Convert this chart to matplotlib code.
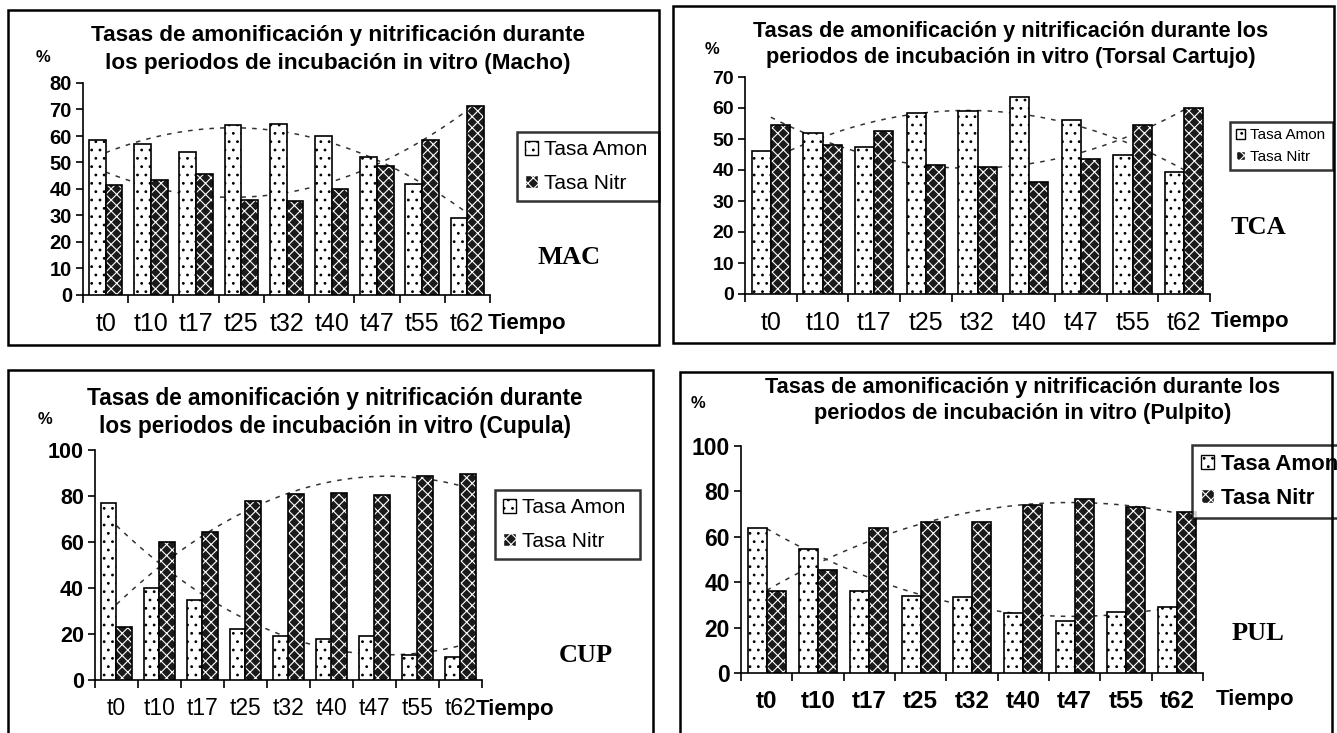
import numpy as np
import matplotlib
matplotlib.use("Agg")
import matplotlib.pyplot as plt
from matplotlib.patches import Rectangle, Patch

plt.rcParams["font.family"] = ["Liberation Sans", "DejaVu Sans"]
plt.rcParams["hatch.linewidth"] = 0.8

# data
categories = ["t0", "t10", "t17", "t25", "t32", "t40", "t47", "t55", "t62"]

mac_amon = [58.5, 57, 54, 64, 64.5, 60, 52, 42, 29]
mac_nitr = [41.5, 43.5, 45.5, 36, 35.5, 40, 48.5, 58.5, 71.5]

tca_amon = [46, 52, 47.5, 58.5, 59, 63.5, 56, 45, 39.5]
tca_nitr = [54.5, 48, 52.5, 41.5, 41, 36, 43.5, 54.5, 60]

cup_amon = [77, 40, 35, 22, 19, 18, 19, 11, 10]
cup_nitr = [23, 60, 64.5, 78, 81, 81.5, 80.5, 88.5, 89.5]

pul_amon = [64, 54.5, 36, 34, 33.5, 26.5, 23, 27, 29]
pul_nitr = [36, 45.5, 64, 66.5, 66.5, 74, 76.5, 73, 71]

series_names = ["Tasa Amon", "Tasa Nitr"]
line1 = "Tasas de amonificación y nitrificación durante"
titles = [
    (line1, "los periodos de incubación in vitro (Macho)"),
    (line1 + " los", "periodos de incubación in vitro (Torsal Cartujo)"),
    (line1, "los periodos de incubación in vitro (Cupula)"),
    (line1 + " los", "periodos de incubación in vitro (Pulpito)"),
]
tags = ["MAC", "TCA", "CUP", "PUL"]

W, H = 1337, 733


def rect(x0, y0, x1, y1):
    # pixel box (top-left origin) -> figure fraction
    return [x0 / W, 1 - y1 / H, (x1 - x0) / W, (y1 - y0) / H]


fig = plt.figure(figsize=(W / 100, H / 100), dpi=100)

panels = [
    dict(amon=mac_amon, nitr=mac_nitr, title=titles[0], tag=tags[0],
         box=(8, 10, 659, 345), ax=(83, 83, 490, 295), ymax=80, ystep=10,
         tfont=16.2, title_x=338, title_y=(35, 63), pct=(43, 57),
         leg=(517, 132, 142, 71), legfs=15, legbold=False, legsp=0.7,
         tagpos=(569, 258), tiempo=(527, 323), xfs=18, xbold=False, yfs=14.5),
    dict(amon=tca_amon, nitr=tca_nitr, title=titles[1], tag=tags[1],
         box=(673, 6, 1334, 343), ax=(745, 77, 1210, 294), ymax=70, ystep=10,
         tfont=15.7, title_x=1011, title_y=(32, 58), pct=(712, 49),
         leg=(1230, 122, 103, 47), legfs=11, legbold=False, legsp=0.5,
         tagpos=(1258, 228), tiempo=(1250, 322), xfs=18, xbold=False, yfs=14),
    dict(amon=cup_amon, nitr=cup_nitr, title=titles[2], tag=tags[2],
         box=(8, 370, 653, 745), ax=(95, 450, 482, 680), ymax=100, ystep=20,
         tfont=16.3, title_x=335, title_y=(398, 427), pct=(45, 420),
         leg=(495, 490, 145, 78), legfs=15, legbold=False, legsp=0.7,
         tagpos=(586, 655), tiempo=(515, 710), xfs=16.5, xbold=False, yfs=15.5),
    dict(amon=pul_amon, nitr=pul_nitr, title=titles[3], tag=tags[3],
         box=(680, 372, 1332, 745), ax=(741, 446, 1203, 673), ymax=100, ystep=20,
         tfont=15.7, title_x=1023, title_y=(387, 413), pct=(698, 403),
         leg=(1192, 445, 150, 72), legfs=16, legbold=True, legsp=0.6,
         tagpos=(1258, 633), tiempo=(1255, 700), xfs=17.5, xbold=True, yfs=16.5),
]

x = np.arange(len(categories))
w = 0.37
xs = np.linspace(0, len(categories) - 1, 200)

for p in panels:
    bx = p["box"]
    fig.patches.append(Rectangle((bx[0] / W, 1 - bx[3] / H), (bx[2] - bx[0]) / W,
                                 (bx[3] - bx[1]) / H, transform=fig.transFigure,
                                 fill=False, edgecolor="black", lw=1.8))

    ax = fig.add_axes(rect(*p["ax"]))
    ax.bar(x - w / 2, p["amon"], w, color="white", edgecolor="black",
           hatch="..", lw=1.2, zorder=3)
    ax.bar(x + w / 2, p["nitr"], w, color="#1a1a1a", edgecolor="white",
           hatch="xxx", lw=0, zorder=3)
    ax.bar(x + w / 2, p["nitr"], w, fill=False, edgecolor="black", lw=1.2, zorder=4)

    # 2nd order polynomial trend lines (dashed), like the spreadsheet default
    for vals in (p["amon"], p["nitr"]):
        coef = np.polyfit(x, vals, 2)
        ax.plot(xs, np.polyval(coef, xs), color="#333333", lw=1.1,
                ls=(0, (3, 4)), zorder=2)

    ax.set_xlim(-0.5, len(categories) - 0.5)
    ax.set_ylim(0, p["ymax"])
    ax.set_yticks(np.arange(0, p["ymax"] + 1, p["ystep"]))
    ax.set_xticks(x)
    ax.set_xticklabels(categories, fontsize=p["xfs"],
                       fontweight="bold" if p["xbold"] else "normal")
    ax.set_xticks(np.arange(-0.5, len(categories)), minor=True)
    ax.tick_params(axis="x", which="major", length=0, pad=12)
    ax.tick_params(axis="x", which="minor", length=6, width=1.2, direction="out")
    ax.tick_params(axis="y", length=5, width=1.2, direction="out", pad=3)
    for lab in ax.get_yticklabels():
        lab.set_fontsize(p["yfs"])
        lab.set_fontweight("bold")
    for s in ("top", "right"):
        ax.spines[s].set_visible(False)
    for s in ("left", "bottom"):
        ax.spines[s].set_linewidth(1.2)
    ax.set_facecolor("none")

    handles = [Patch(facecolor="white", edgecolor="black", hatch="..", lw=1),
               Patch(facecolor="#1a1a1a", edgecolor="white", hatch="xxx", lw=1)]
    lx, ly, lw_, lh = p["leg"]
    leg = ax.legend(handles, series_names, loc="upper left",
                    bbox_to_anchor=(lx / W, 1 - (ly + lh) / H, lw_ / W, lh / H),
                    bbox_transform=fig.transFigure, mode="expand",
                    prop=dict(size=p["legfs"],
                              weight="bold" if p["legbold"] else "normal"),
                    frameon=True, fancybox=False, handlelength=0.6,
                    handleheight=0.6, handletextpad=0.3, labelspacing=p["legsp"],
                    borderpad=0.4, borderaxespad=0)
    leg.get_frame().set_edgecolor("black")
    leg.get_frame().set_linewidth(1.8)

    fig.text(p["title_x"] / W, 1 - p["title_y"][0] / H, p["title"][0],
             ha="center", va="center", fontsize=p["tfont"], fontweight="bold")
    fig.text(p["title_x"] / W, 1 - p["title_y"][1] / H, p["title"][1],
             ha="center", va="center", fontsize=p["tfont"], fontweight="bold")
    fig.text(p["pct"][0] / W, 1 - p["pct"][1] / H, "%", ha="center",
             va="center", fontsize=12, fontweight="bold")
    fig.text(p["tiempo"][0] / W, 1 - p["tiempo"][1] / H, "Tiempo", ha="center",
             va="center", fontsize=16, fontweight="bold")
    fig.text(p["tagpos"][0] / W, 1 - p["tagpos"][1] / H, p["tag"], ha="center",
             va="center", fontsize=19, fontweight="bold",
             family=["Liberation Serif", "DejaVu Serif"])

fig.savefig("out.png", dpi=100)
